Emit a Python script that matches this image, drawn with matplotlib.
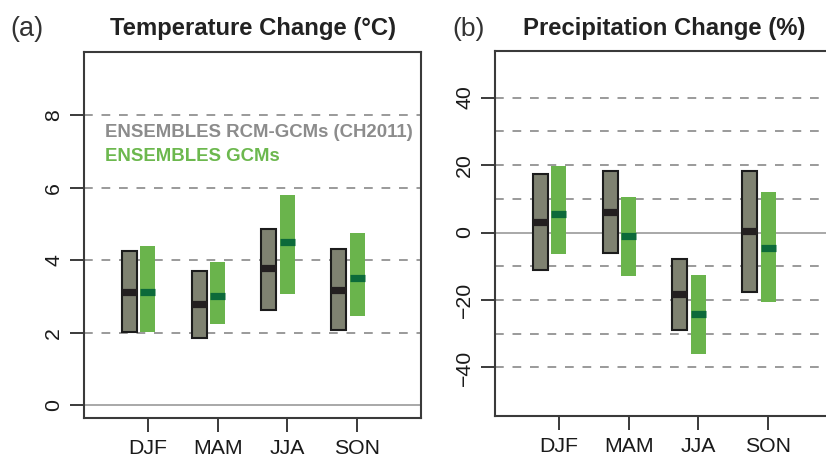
import matplotlib
matplotlib.use("Agg")
import matplotlib.pyplot as plt

plt.rcParams['font.family'] = ['Liberation Sans', 'DejaVu Sans']

seasons = ["DJF", "MAM", "JJA", "SON"]

# Temperature change (°C): low / median / high
temp_rcm_low = [2.02, 1.84, 2.62, 2.07]
temp_rcm_med = [3.11, 2.78, 3.78, 3.17]
temp_rcm_high = [4.25, 3.70, 4.87, 4.30]
temp_gcm_low = [2.02, 2.23, 3.06, 2.46]
temp_gcm_med = [3.11, 3.00, 4.49, 3.50]
temp_gcm_high = [4.39, 3.94, 5.81, 4.76]

# Precipitation change (%): low / median / high
prec_rcm_low = [-11.0, -6.2, -28.8, -17.5]
prec_rcm_med = [3.2, 6.0, -18.3, 0.3]
prec_rcm_high = [17.2, 18.2, -7.9, 18.2]
prec_gcm_low = [-6.4, -12.9, -36.1, -20.5]
prec_gcm_med = [5.4, -1.0, -24.2, -4.7]
prec_gcm_high = [19.8, 10.6, -12.5, 11.9]

temp_ticks = [0, 2, 4, 6, 8]
temp_grid = [2, 4, 6, 8]
prec_ticks = [-40, -20, 0, 20, 40]
prec_grid = [-40, -30, -20, -10, 10, 20, 30, 40]

GRAY_FILL = "#7f8271"
GRAY_EDGE = "#1c1c1c"
GRAY_MED = "#231f20"
GREEN_FILL = "#6ab44c"
GREEN_MED = "#0c6a3a"
SPINE = "#3a3a3a"

W, H = 826, 459
fig = plt.figure(figsize=(W / 100, H / 100), dpi=100)


def fax(l, r, b, t):
    return fig.add_axes([l / W, 1 - b / H, (r - l) / W, (b - t) / H])


ax_a = fax(84, 421, 418, 52)
ax_b = fax(495, 832, 415.7, 51)

BW = 0.215
OFF = 0.265


def fmt(t):
    return str(t).replace("-", "\u2212")


def draw_panel(ax, rl, rm, rh, gl, gm, gh, ylim, ticks, grid):
    x = list(range(1, len(seasons) + 1))
    for g in grid:
        ax.axhline(g, color="#9a9a9a", lw=1.4, ls=(0, (4.5, 4.5)), zorder=1)
    ax.axhline(0, color="#a8a8a8", lw=1.4, zorder=1)
    xr = [v - OFF for v in x]
    ax.bar(xr, [h - l for l, h in zip(rl, rh)], BW, bottom=rl,
           color=GRAY_FILL, edgecolor=GRAY_EDGE, linewidth=1.5, zorder=3)
    ax.hlines(rm, [v - BW / 2 for v in xr], [v + BW / 2 for v in xr],
              color=GRAY_MED, lw=5.2, capstyle="butt", zorder=4)
    ax.bar(x, [h - l for l, h in zip(gl, gh)], BW, bottom=gl,
           color=GREEN_FILL, linewidth=0, zorder=3)
    ax.hlines(gm, [v - BW / 2 for v in x], [v + BW / 2 for v in x],
              color=GREEN_MED, lw=5.2, capstyle="butt", zorder=4)
    ax.set_xlim(0.082, 4.918)
    ax.set_ylim(*ylim)
    ax.set_xticks(x)
    ax.set_xticklabels(seasons)
    ax.set_yticks(ticks)
    ax.set_yticklabels([fmt(t) for t in ticks], rotation=90, va="center")
    ax.tick_params(axis="both", length=10, width=1.4, color=SPINE,
                   labelsize=15.3, labelcolor="#1a1a1a")
    ax.tick_params(axis="x", pad=5)
    ax.tick_params(axis="y", pad=5)
    for s in ax.spines.values():
        s.set_color(SPINE)
        s.set_linewidth(1.5)


draw_panel(ax_a, temp_rcm_low, temp_rcm_med, temp_rcm_high,
           temp_gcm_low, temp_gcm_med, temp_gcm_high,
           (-0.36, 9.75), temp_ticks, temp_grid)
draw_panel(ax_b, prec_rcm_low, prec_rcm_med, prec_rcm_high,
           prec_gcm_low, prec_gcm_med, prec_gcm_high,
           (-54.3, 53.8), prec_ticks, prec_grid)

ax_a.text(0.0623, 0.781, "ENSEMBLES RCM-GCMs (CH2011)", transform=ax_a.transAxes,
          fontsize=13.4, fontweight="bold", color="#8c8c8c", va="center", ha="left")
ax_a.text(0.0623, 0.714, "ENSEMBLES GCMs", transform=ax_a.transAxes,
          fontsize=13.4, fontweight="bold", color="#6cb84e", va="center", ha="left")

fig.text(253 / W, 1 - 29 / H, "Temperature Change (°C)", fontsize=17.2,
         fontweight="bold", color="#222222", ha="center", va="center")
fig.text(664 / W, 1 - 29 / H, "Precipitation Change (%)", fontsize=17.2,
         fontweight="bold", color="#222222", ha="center", va="center")
fig.text(10 / W, 1 - 29 / H, "(a)", fontsize=19.5, color="#333333",
         ha="left", va="center")
fig.text(452 / W, 1 - 29 / H, "(b)", fontsize=19, color="#333333",
         ha="left", va="center")

fig.savefig("out.png", dpi=100)
